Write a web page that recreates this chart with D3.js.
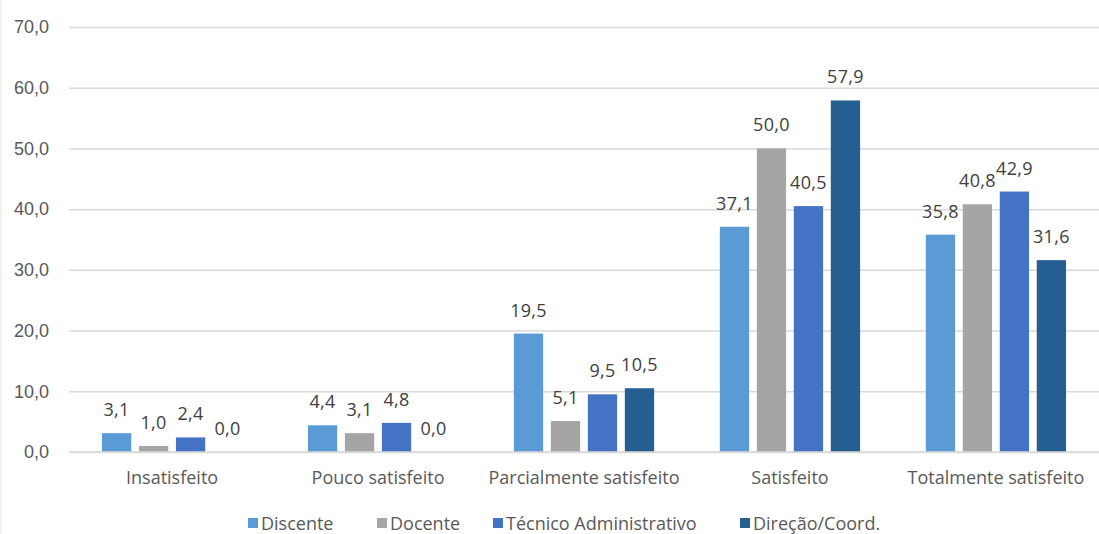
<!DOCTYPE html>
<html>
<head>
<meta charset="utf-8">
<script src="https://cdn.jsdelivr.net/npm/d3@7"></script>
<style>
  body { margin: 0; background: #fff; }
  svg { font-family: "Open Sans", sans-serif; }
  .grid line { stroke: #d9d9d9; stroke-width: 1.5; }
  .tick text { fill: #595959; font-size: 18px; }
  .val { fill: #404040; font-size: 18px; letter-spacing: 0.3px; }
  .cat { fill: #595959; font-size: 18px; }
  .leg { fill: #595959; font-size: 18px; }
</style>
</head>
<body>
<svg id="chart"></svg>
<script>
// satisfaction levels
var categories = ["Insatisfeito", "Pouco satisfeito", "Parcialmente satisfeito", "Satisfeito", "Totalmente satisfeito"];
var seriesNames = ["Discente", "Docente", "Técnico Administrativo", "Direção/Coord."];
var discente = [3.1, 4.4, 19.5, 37.1, 35.8];
var docente = [1.0, 3.1, 5.1, 50.0, 40.8];
var tecnico = [2.4, 4.8, 9.5, 40.5, 42.9];
var direcao = [0.0, 0.0, 10.5, 57.9, 31.6];
var yTicks = [0, 10, 20, 30, 40, 50, 60, 70];

var colors = ["#5b9bd5", "#a5a5a5", "#4472c4", "#255e91"];
var values = [discente, docente, tecnico, direcao];

var width = 1099, height = 534;
var mLeft = 69, mRight = 1099, mTop = 27, mBottom = 452;

var svg = d3.select("#chart").attr("width", width).attr("height", height);

var fmt = function(v) { return v.toFixed(1).replace(".", ","); };

// faint chart border on the left
svg.append("line")
    .attr("x1", 1).attr("x2", 1).attr("y1", 0).attr("y2", height)
    .attr("stroke", "#eeeeee").attr("stroke-width", 1.5);

var x0 = d3.scaleBand().domain(categories).range([mLeft, mRight])
    .paddingInner(0.319).paddingOuter(0.16);
var x1 = d3.scaleBand().domain(d3.range(seriesNames.length)).range([0, x0.bandwidth()])
    .paddingInner(0.208);
var y = d3.scaleLinear().domain([0, 70]).range([mBottom, mTop]);

// gridlines + y labels
var yAxis = d3.axisLeft(y).tickValues(yTicks).tickSize(-(mRight - mLeft)).tickPadding(20).tickFormat(fmt);
var g = svg.append("g").attr("class", "grid")
    .attr("transform", "translate(" + mLeft + ",0)")
    .call(yAxis);
g.select(".domain").remove();

var groups = svg.selectAll(".cat-group")
    .data(categories)
    .enter().append("g")
    .attr("transform", function(d) { return "translate(" + x0(d) + ",0)"; });

groups.selectAll("rect")
    .data(function(d, i) { return values.map(function(s, j) { return { s: j, v: s[i] }; }); })
    .enter().append("rect")
    .attr("x", function(d) { return x1(d.s); })
    .attr("width", x1.bandwidth())
    .attr("y", function(d) { return y(d.v); })
    .attr("height", function(d) { return mBottom - y(d.v); })
    .attr("fill", function(d) { return colors[d.s]; });

groups.selectAll(".val")
    .data(function(d, i) { return values.map(function(s, j) { return { s: j, v: s[i] }; }); })
    .enter().append("text")
    .attr("class", "val")
    .attr("text-anchor", "middle")
    .attr("x", function(d) { return x1(d.s) + x1.bandwidth() / 2; })
    .attr("y", function(d) { return y(d.v) - 17; })
    .text(function(d) { return fmt(d.v); });

// x-axis baseline
svg.append("line")
    .attr("x1", mLeft).attr("x2", mRight)
    .attr("y1", mBottom).attr("y2", mBottom)
    .attr("stroke", "#d9d9d9").attr("stroke-width", 1.5);

svg.selectAll(".cat")
    .data(categories)
    .enter().append("text")
    .attr("class", "cat")
    .attr("text-anchor", "middle")
    .attr("x", function(d) { return x0(d) + x0.bandwidth() / 2; })
    .attr("y", 484)
    .text(function(d) { return d; });

// legend
var legX = [248, 377, 493, 740];
var leg = svg.selectAll(".legend")
    .data(seriesNames)
    .enter().append("g")
    .attr("transform", function(d, i) { return "translate(" + legX[i] + ",518)"; });
leg.append("rect").attr("width", 10).attr("height", 10)
    .attr("fill", function(d, i) { return colors[i]; });
leg.append("text").attr("class", "leg")
    .attr("x", 13).attr("y", 11.5)
    .text(function(d) { return d; });
</script>
</body>
</html>
